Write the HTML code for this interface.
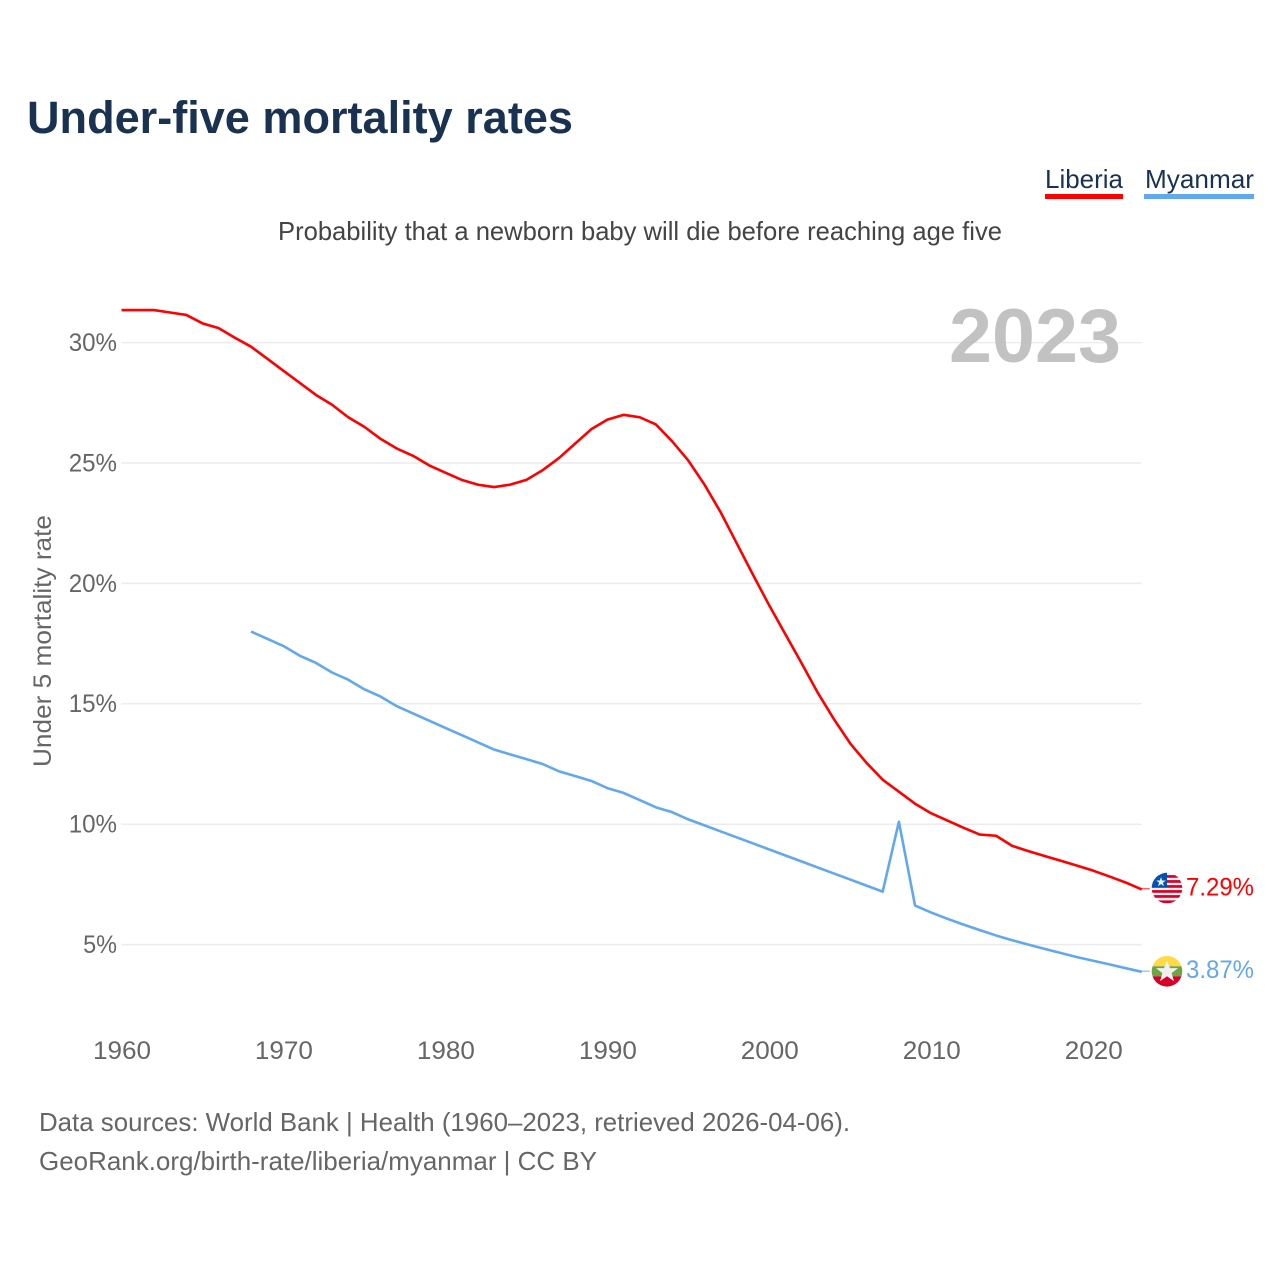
<!DOCTYPE html>
<html lang="en">
<head>
<meta charset="utf-8">
<title>Under-five mortality rates</title>
<style>
html,body{margin:0;padding:0;background:#fff;}
svg{display:block;font-family:"Liberation Sans",sans-serif;}
</style>
</head>
<body>
<svg id="chart" xmlns="http://www.w3.org/2000/svg" width="1280" height="1280" viewBox="0 0 1280 1280">
  <defs>
    <clipPath id="clip-liberia"><circle cx="0" cy="0" r="15.3"/></clipPath>
    <clipPath id="clip-myanmar"><circle cx="0" cy="0" r="15.3"/></clipPath>
  </defs>
  <rect x="0" y="0" width="1280" height="1280" fill="#fff"/>
  <text x="27" y="133" font-size="45" font-weight="700" fill="#1a3251" textLength="546" lengthAdjust="spacingAndGlyphs">Under-five mortality rates</text>
  <g>
    <text x="1045" y="188" font-size="26" fill="#1a3251" textLength="78" lengthAdjust="spacingAndGlyphs">Liberia</text>
    <rect x="1045" y="194" width="78" height="5" fill="#ff0000"/>
  </g>
  <g>
    <text x="1145" y="188" font-size="26" fill="#1a3251" textLength="109" lengthAdjust="spacingAndGlyphs">Myanmar</text>
    <rect x="1144" y="194" width="110" height="5" fill="#62a8ee"/>
  </g>
  <text x="278" y="240" font-size="26" fill="#444" textLength="724" lengthAdjust="spacingAndGlyphs">Probability that a newborn baby will die before reaching age five</text>
  <g id="grid"></g>
  <g id="y-ticks"></g>
  <g id="x-ticks"></g>
  <text x="949" y="362" font-size="76" font-weight="700" fill="#bfbfbf" fill-opacity="0.95" textLength="172" lengthAdjust="spacingAndGlyphs">2023</text>
  <text transform="translate(51 767) rotate(-90)" x="0" y="0" font-size="25" fill="#666" textLength="252" lengthAdjust="spacingAndGlyphs">Under 5 mortality rate</text>
  <g id="series"></g>
  <g id="flag-liberia" clip-path="url(#clip-liberia)">
    <rect x="-16" y="-16" width="32" height="32" fill="#f0f0f0"/>
    <rect x="-16" y="-13" width="32" height="2.7" fill="#d80027"/>
    <rect x="-16" y="-8" width="32" height="2.7" fill="#d80027"/>
    <rect x="-16" y="-3" width="32" height="2.7" fill="#d80027"/>
    <rect x="-16" y="2" width="32" height="2.7" fill="#d80027"/>
    <rect x="-16" y="7" width="32" height="2.7" fill="#d80027"/>
    <rect x="-16" y="12.3" width="32" height="2.9" fill="#d80027"/>
    <rect x="-16" y="-16" width="16" height="15" fill="#0052b4"/>
    <polygon points="-6,-11 -4.8,-7.6 -1.2,-7.6 -4.1,-5.4 -3,-2 -6,-4 -9,-2 -7.9,-5.4 -10.8,-7.6 -7.2,-7.6" fill="#f0f0f0"/>
  </g>
  <g id="flag-myanmar" clip-path="url(#clip-myanmar)">
    <rect x="-16" y="-16" width="32" height="11" fill="#ffda44"/>
    <rect x="-16" y="-5" width="32" height="10" fill="#6da544"/>
    <rect x="-16" y="5" width="32" height="11" fill="#d80027"/>
    <polygon points="0,-11 3,-3.2 11,-3.2 4.6,1.8 7,10 0,5 -7,10 -4.6,1.8 -11,-3.2 -3,-3.2" fill="#f0f0f0"/>
  </g>
  <text id="end-label-liberia" x="1186" font-size="25" fill="#ff0000" textLength="68" lengthAdjust="spacingAndGlyphs"></text>
  <text id="end-label-myanmar" x="1186" font-size="25" fill="#62a8ee" textLength="68" lengthAdjust="spacingAndGlyphs"></text>
  <text x="39" y="1131" font-size="26" fill="#666" textLength="811" lengthAdjust="spacingAndGlyphs">Data sources: World Bank | Health (1960–2023, retrieved 2026-04-06).</text>
  <text x="39" y="1170" font-size="26" fill="#666" textLength="558" lengthAdjust="spacingAndGlyphs">GeoRank.org/birth-rate/liberia/myanmar | CC BY</text>
</svg>
<script>
const startYear = 1960;
const endYear = 2023;
const yTickValues = [5, 10, 15, 20, 25, 30];
const yTickLabels = ["5%", "10%", "15%", "20%", "25%", "30%"];
const xTickValues = [1960, 1970, 1980, 1990, 2000, 2010, 2020];
const xTickLabels = ["1960", "1970", "1980", "1990", "2000", "2010", "2020"];
const liberiaYears = [1960,1961,1962,1963,1964,1965,1966,1967,1968,1969,1970,1971,1972,1973,1974,1975,1976,1977,1978,1979,1980,1981,1982,1983,1984,1985,1986,1987,1988,1989,1990,1991,1992,1993,1994,1995,1996,1997,1998,1999,2000,2001,2002,2003,2004,2005,2006,2007,2008,2009,2010,2011,2012,2013,2014,2015,2016,2017,2018,2019,2020,2021,2022,2023];
const liberiaValues = [31.35,31.35,31.35,31.25,31.15,30.8,30.6,30.2,29.83,29.33,28.83,28.33,27.83,27.42,26.9,26.5,26.0,25.6,25.3,24.9,24.6,24.3,24.1,24.0,24.1,24.3,24.7,25.2,25.8,26.4,26.8,27.0,26.9,26.6,25.9,25.1,24.1,22.95,21.65,20.35,19.08,17.88,16.68,15.45,14.35,13.35,12.55,11.85,11.35,10.85,10.45,10.15,9.85,9.57,9.52,9.1,8.88,8.68,8.48,8.28,8.07,7.83,7.58,7.29];
const myanmarYears = [1968,1969,1970,1971,1972,1973,1974,1975,1976,1977,1978,1979,1980,1981,1982,1983,1984,1985,1986,1987,1988,1989,1990,1991,1992,1993,1994,1995,1996,1997,1998,1999,2000,2001,2002,2003,2004,2005,2006,2007,2008,2009,2010,2011,2012,2013,2014,2015,2016,2017,2018,2019,2020,2021,2022,2023];
const myanmarValues = [18.0,17.7,17.4,17.0,16.7,16.3,16.0,15.6,15.3,14.9,14.6,14.3,14.0,13.7,13.4,13.1,12.9,12.7,12.5,12.2,12.0,11.8,11.5,11.3,11.0,10.7,10.5,10.2,9.95,9.7,9.45,9.2,8.95,8.7,8.45,8.2,7.95,7.7,7.45,7.2,10.1,6.62,6.33,6.07,5.83,5.6,5.38,5.18,5.0,4.82,4.65,4.48,4.33,4.18,4.02,3.87];
const NS = "http://www.w3.org/2000/svg";
const plotLeft = 121.5, plotRight = 1141.8;
const y5 = 944.6, y30 = 342.6;
function xScale(year){return plotLeft + (year - startYear) * (plotRight - plotLeft) / (endYear - startYear);}
function yScale(value){return y5 + (value - 5) * (y30 - y5) / 25;}
function make(tag, attrs, parent){
  const el = document.createElementNS(NS, tag);
  for (const k in attrs) el.setAttribute(k, attrs[k]);
  parent.appendChild(el);
  return el;
}
const grid = document.getElementById("grid");
const yTicks = document.getElementById("y-ticks");
const xTicks = document.getElementById("x-ticks");
const series = document.getElementById("series");
yTickValues.forEach(function(v, i){
  const line = make("line", {x1: plotLeft, x2: plotRight, y1: yScale(v), y2: yScale(v), stroke: "#ececec", "stroke-width": 1.5}, grid);
  
  
  const label = yTickLabels[i];
  const t = make("text", {x: 117 - ((label.length - 1) * 14.4 + 19.5), y: yScale(v) + 8.4, "font-size": 25, fill: "#666", textLength: (label.length - 1) * 14.4 + 19.5, lengthAdjust: "spacingAndGlyphs"}, yTicks);
  
  
  t.textContent = label;
});
xTickValues.forEach(function(v, i){
  const t = make("text", {x: xScale(v) + 0.5, y: 1059, "font-size": 25, fill: "#666", "text-anchor": "middle", textLength: 58, lengthAdjust: "spacingAndGlyphs"}, xTicks);
  
  
  t.textContent = xTickLabels[i];
});
function pathFor(years, values){
  return years.map(function(yr, i){return (i ? "L" : "M") + xScale(yr).toFixed(2) + " " + yScale(values[i]).toFixed(2);}).join("");
}
const lineLiberia = make("path", {d: pathFor(liberiaYears, liberiaValues), fill: "none", stroke: "#ff0000", "stroke-width": 2.6, "stroke-linejoin": "round"}, series);


const lineMyanmar = make("path", {d: pathFor(myanmarYears, myanmarValues), fill: "none", stroke: "#62a8ee", "stroke-width": 2.6, "stroke-linejoin": "round"}, series);


const lastLiberia = liberiaValues[liberiaValues.length - 1];
const lastMyanmar = myanmarValues[myanmarValues.length - 1];
const stubLiberia = make("line", {x1: plotRight, x2: plotRight + 8, y1: yScale(lastLiberia) - 0.8, y2: yScale(lastLiberia) - 0.8, stroke: "#ff0000", "stroke-width": 1.5, opacity: 0.6}, series);


const stubMyanmar = make("line", {x1: plotRight, x2: plotRight + 8, y1: yScale(lastMyanmar) - 0.6, y2: yScale(lastMyanmar) - 0.6, stroke: "#62a8ee", "stroke-width": 1.5, opacity: 0.6}, series);


document.getElementById("flag-liberia").setAttribute("transform", "translate(1167 " + (yScale(lastLiberia) - 1.4).toFixed(1) + ")");
document.getElementById("flag-myanmar").setAttribute("transform", "translate(1167 " + (yScale(lastMyanmar) - 0.5).toFixed(1) + ")");
const endL = document.getElementById("end-label-liberia");
endL.setAttribute("y", yScale(lastLiberia) + 6);
endL.textContent = lastLiberia.toFixed(2) + "%";
const endM = document.getElementById("end-label-myanmar");
endM.setAttribute("y", yScale(lastMyanmar) + 6);
endM.textContent = lastMyanmar.toFixed(2) + "%";
</script>
</body>
</html>
